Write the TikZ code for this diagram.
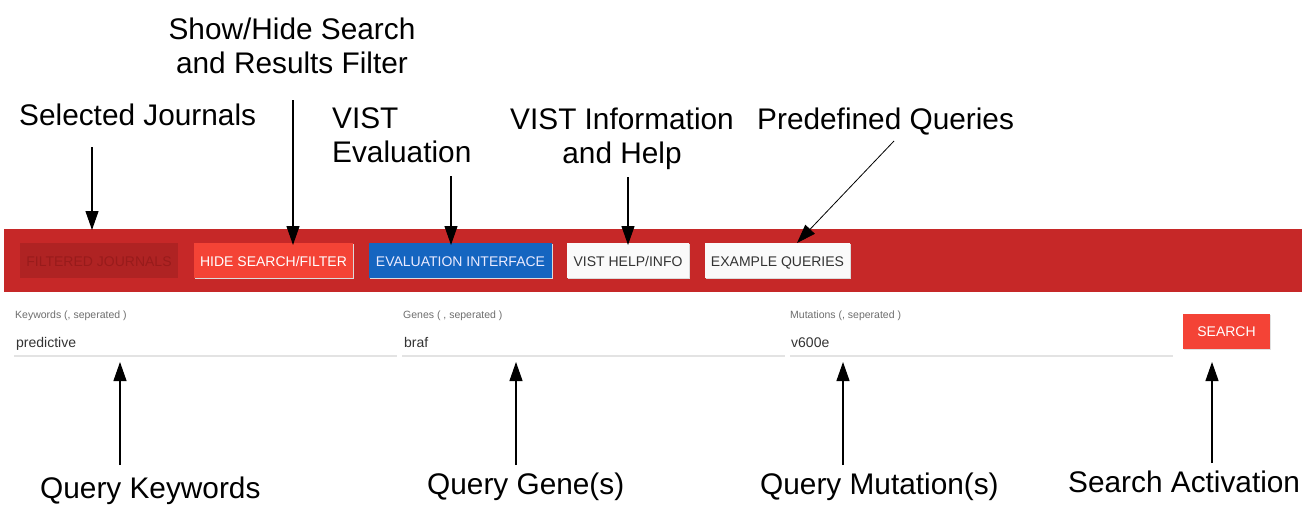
\documentclass[tikz,border=0pt]{standalone}
\usepackage{fontspec}
\setmainfont{Liberation Sans}
\usetikzlibrary{arrows.meta}
\definecolor{barred}{HTML}{C62828}
\definecolor{fjbg}{HTML}{AF2323}
\definecolor{fjtx}{HTML}{981B1B}
\definecolor{btnred}{HTML}{F44336}
\definecolor{btnblue}{HTML}{1565C0}
\definecolor{btnwhite}{HTML}{FAFAFA}
\definecolor{lblgray}{HTML}{6E6E6E}
\definecolor{valtx}{HTML}{333333}
\definecolor{uline}{HTML}{E3E3E3}
\tikzset{
  lab/.style={inner sep=0pt, font=\fontsize{29.8}{34}\selectfont, text=black},
  btntext/.style={inner sep=0pt, anchor=base, font=\fontsize{14}{16}\selectfont},
  fieldlab/.style={inner sep=0pt, anchor=base west, text=lblgray, font=\fontsize{10.5}{12}\selectfont},
  fieldval/.style={inner sep=0pt, anchor=base west, text=valtx, font=\fontsize{14}{16}\selectfont},
  arr/.style={-{Triangle[width=13pt,length=19pt]}, line width=1.1pt, black},
}
\begin{document}
\begin{tikzpicture}[x=1pt,y=-1pt]
\useasboundingbox (0,0) rectangle (1313,515);
\fill[white] (0,0) rectangle (1313,515);
% bar
\fill[barred] (4,229) rectangle (1302,292);
% buttons
\fill[fjbg] (20,243) rectangle (178,278);
\node[btntext, text=fjtx] (fj) at (99,266) {FILTERED JOURNALS};
\fill[black!14] (194.5,244) rectangle (353.5,279);
\fill[btnred] (194,243) rectangle (353,278);
\node[btntext, text=white] (hide) at (273.5,266) {HIDE SEARCH/FILTER};
\fill[black!14] (369.5,244) rectangle (552.5,279);
\fill[btnblue] (369,243) rectangle (552,278);
\node[btntext, text=white!92!blue] (eval) at (460.5,266) {EVALUATION INTERFACE};
\fill[black!14] (567.5,244) rectangle (689.5,279);
\fill[btnwhite] (567,243) rectangle (689,278);
\node[btntext, text=valtx] (help) at (628,266) {VIST HELP/INFO};
\fill[black!14] (705.5,244) rectangle (850.5,279);
\fill[btnwhite] (705,243) rectangle (850,278);
\node[btntext, text=valtx] (ex) at (777.5,266) {EXAMPLE QUERIES};
\fill[black!12] (1183.5,315) rectangle (1270.5,350);
\fill[btnred] (1183,314) rectangle (1270,349);
\node[btntext, text=white] (search) at (1226.5,336.5) {SEARCH};
% fields
\node[fieldlab] (kwl) at (15,318) {Keywords (, seperated )};
\node[fieldlab] (gnl) at (403,318) {Genes ( , seperated )};
\node[fieldlab] (mtl) at (790,318) {Mutations (, seperated )};
\node[fieldval] (kwv) at (16,347) {predictive};
\node[fieldval] (gnv) at (404,347) {braf};
\node[fieldval] (mtv) at (791,347) {v600e};
\draw[uline, line width=1.5pt] (14,356) -- (397,356);
\draw[uline, line width=1.5pt] (402,356) -- (785,356);
\draw[uline, line width=1.5pt] (790,356) -- (1173,356);
% labels
\node[lab, anchor=base west] (lsel) at (19,125) {Selected Journals};
\node[lab, anchor=base, align=center] (lshow) at (292,73) {Show/Hide Search\\and Results Filter};
\node[lab, anchor=base west, align=left] (leval) at (332,162) {VIST\\Evaluation};
\node[lab, anchor=base, align=center] (linfo) at (622,163) {VIST Information\\and Help};
\node[lab, anchor=base west] (lpre) at (757,129) {Predefined Queries};
\node[lab, anchor=base west] (lkw) at (40,498) {Query Keywords};
\node[lab, anchor=base west] (lgn) at (427,494) {Query Gene(s)};
\node[lab, anchor=base west] (lmt) at (760,494) {Query Mutation(s)};
\node[lab, anchor=base west] (lsa) at (1068,492) {Search Activation};
% arrow endpoints
\coordinate (s1) at (92,147);  \coordinate (e1) at (92,230);
\coordinate (s2) at (293,100); \coordinate (e2) at (293,245);
\coordinate (s3) at (451,176); \coordinate (e3) at (451,245);
\coordinate (s4) at (628,177); \coordinate (e4) at (628,245);
\coordinate (s5) at (894,141); \coordinate (e5) at (797,243);
\coordinate (s6) at (120,465); \coordinate (e6) at (120,362);
\coordinate (s7) at (516,465); \coordinate (e7) at (516,362);
\coordinate (s8) at (843,465); \coordinate (e8) at (843,362);
\coordinate (s9) at (1212,463); \coordinate (e9) at (1212,362);
\draw[arr] (s1) -- (e1);
\draw[arr] (s2) -- (e2);
\draw[arr] (s3) -- (e3);
\draw[arr] (s4) -- (e4);
\draw[arr, line width=0.8pt] (s5) -- (e5);
\draw[arr] (s6) -- (e6);
\draw[arr] (s7) -- (e7);
\draw[arr] (s8) -- (e8);
\draw[arr] (s9) -- (e9);
\end{tikzpicture}
\end{document}
